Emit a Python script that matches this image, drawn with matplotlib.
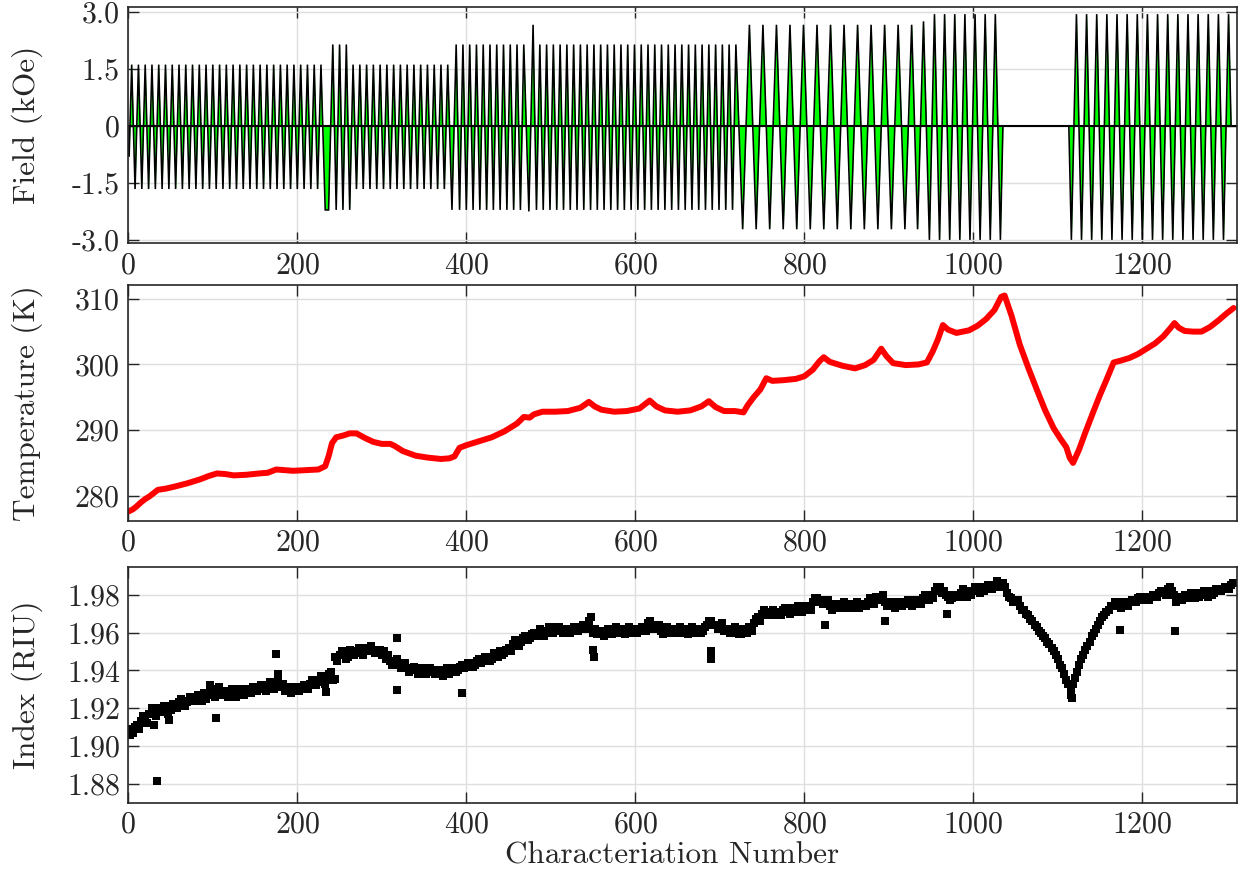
import numpy as np
import matplotlib
matplotlib.use("Agg")
import matplotlib.pyplot as plt

plt.rcParams.update({
    "font.family": "serif",
    "font.serif": ["cmr10"],
    "mathtext.fontset": "cm",
    "axes.formatter.use_mathtext": True,
    "axes.unicode_minus": False,
})

# ---------------- field protocol (kOe) ----------------
# Alternating sweep turning points: (first x, spacing, count, first value, second value)
field_blocks = [
    (4, 4, 57, 1.62, -1.66),
    (266, 4, 29, 1.62, -1.66),
    (388, 4, 21, 2.15, -2.21),
    (483, 4, 60, -2.21, 2.15),
    (727, 8, 26, -2.72, 2.67),
    (954, 6, 14, 2.95, -3.00),
    (1116, 6, 32, -3.00, 2.95),
]
# Single turning points between the regular sweeps
field_extra_x = [1, 1, 233, 237, 242, 246, 250, 254, 258, 262, 383, 474, 479,
                 934, 941, 948, 1035, 1113, 1305]
field_extra_y = [0, -0.8, -2.21, -2.21, 2.15, -2.21, 2.15, -2.21, 2.15, -2.21,
                 -2.21, -2.25, 2.67, -2.72, 2.76, -3.00, 0, 0, 0]

# ---------------- temperature (K) ----------------
temp_x = [0, 5, 10, 15, 20, 25, 30, 35, 45, 55, 70, 85, 95, 105, 115, 125, 140,
          155, 165, 175, 185, 195, 210, 225, 233, 237, 241, 246, 255, 262, 270,
          280, 290, 300, 310, 315, 325, 340, 355, 370, 380, 386, 392, 400, 415,
          430, 445, 460, 468, 475, 480, 490, 505, 520, 535, 545, 552, 560, 575,
          590, 605, 617, 625, 635, 650, 665, 678, 687, 695, 705, 718, 728, 733,
          740, 748, 755, 762, 775, 790, 800, 810, 818, 823, 830, 845, 860, 872,
          882, 891, 897, 905, 920, 935, 945, 952, 958, 964, 970, 980, 995, 1005,
          1015, 1025, 1033, 1037, 1045, 1055, 1065, 1075, 1085, 1095, 1103, 1110,
          1114, 1118, 1125, 1133, 1142, 1150, 1158, 1166, 1175, 1185, 1195, 1205,
          1215, 1225, 1233, 1238, 1243, 1250, 1260, 1270, 1280, 1290, 1300, 1308]
temp_k = [277.6, 277.9, 278.4, 279.0, 279.5, 279.9, 280.4, 280.9, 281.1, 281.4,
          281.9, 282.5, 283.0, 283.4, 283.3, 283.1, 283.2, 283.4, 283.5, 284.0,
          283.9, 283.8, 283.9, 284.0, 284.5, 286.0, 288.0, 288.9, 289.2, 289.5,
          289.5, 288.8, 288.2, 287.9, 287.9, 287.6, 286.8, 286.1, 285.8, 285.6,
          285.7, 286.0, 287.3, 287.7, 288.3, 288.9, 289.8, 291.0, 292.0, 291.9,
          292.4, 292.8, 292.8, 292.9, 293.4, 294.3, 293.6, 293.1, 292.8, 292.9,
          293.3, 294.5, 293.6, 293.0, 292.8, 293.0, 293.6, 294.4, 293.5, 292.9,
          292.9, 292.7, 293.8, 295.0, 296.2, 297.9, 297.5, 297.6, 297.8, 298.2,
          299.2, 300.5, 301.1, 300.4, 299.8, 299.4, 299.9, 300.7, 302.4, 301.3,
          300.2, 299.9, 300.0, 300.3, 302.0, 303.8, 306.0, 305.3, 304.8, 305.2,
          305.9, 306.9, 308.3, 310.3, 310.5, 307.5, 303.0, 299.5, 296.2, 293.0,
          290.3, 288.7, 287.4, 285.8, 285.0, 287.0, 289.8, 292.8, 295.4, 297.8,
          300.3, 300.6, 301.0, 301.6, 302.4, 303.2, 304.3, 305.5, 306.3, 305.6,
          305.1, 305.0, 305.0, 305.7, 306.7, 307.8, 308.6]

# ---------------- refractive index (RIU) ----------------
index_step = 5
# samples at 0, 5, 10, ...
index_vals = [
    1.909, 1.907, 1.911, 1.913, 1.915, 1.917, 1.919, 1.920, 1.918, 1.921,
    1.919, 1.922, 1.923, 1.924, 1.923, 1.926, 1.925, 1.926, 1.928, 1.927,
    1.930, 1.928, 1.927, 1.929, 1.926, 1.928, 1.927, 1.929, 1.930, 1.928,
    1.931, 1.930, 1.932, 1.931, 1.933, 1.934, 1.931, 1.929, 1.930, 1.929,
    1.931, 1.930, 1.932, 1.933, 1.934, 1.935, 1.934, 1.936, 1.939, 1.947,
    1.948, 1.949, 1.947, 1.950, 1.949, 1.951, 1.952, 1.950, 1.951, 1.949,
    1.948, 1.946, 1.945, 1.943, 1.944, 1.942, 1.941, 1.940, 1.941, 1.939,
    1.940, 1.939, 1.940, 1.938, 1.939, 1.940, 1.938, 1.941, 1.940, 1.943,
    1.942, 1.944, 1.943, 1.946, 1.945, 1.947, 1.946, 1.948, 1.950, 1.949,
    1.952, 1.954, 1.956, 1.955, 1.958, 1.957, 1.960, 1.959, 1.961, 1.960,
    1.962, 1.961, 1.963, 1.960, 1.962, 1.961, 1.963, 1.962, 1.964, 1.966,
    1.960, 1.959, 1.961, 1.960, 1.962, 1.961, 1.960, 1.962, 1.961, 1.960,
    1.962, 1.961, 1.963, 1.965, 1.964, 1.962, 1.961, 1.962, 1.960, 1.962,
    1.961, 1.960, 1.962, 1.961, 1.960, 1.962, 1.961, 1.964, 1.966, 1.964,
    1.963, 1.961, 1.962, 1.960, 1.961, 1.959, 1.962, 1.963, 1.965, 1.968,
    1.970, 1.971, 1.970, 1.969, 1.971, 1.972, 1.971, 1.973, 1.972, 1.973,
    1.972, 1.974, 1.976, 1.978, 1.977, 1.975, 1.974, 1.973, 1.975, 1.974,
    1.973, 1.975, 1.974, 1.973, 1.975, 1.976, 1.977, 1.979, 1.978, 1.976,
    1.974, 1.975, 1.976, 1.974, 1.975, 1.976, 1.975, 1.977, 1.978, 1.979,
    1.980, 1.982, 1.984, 1.982, 1.979, 1.978, 1.980, 1.981, 1.981, 1.982,
    1.982, 1.983, 1.984, 1.983, 1.985, 1.984, 1.986, 1.986, 1.981, 1.978,
    1.976, 1.974, 1.972, 1.969, 1.966, 1.963, 1.960, 1.957, 1.954, 1.950,
    1.946, 1.941, 1.935, 1.930, 1.936, 1.943, 1.948, 1.953, 1.958, 1.962,
    1.966, 1.969, 1.972, 1.974, 1.976, 1.973, 1.975, 1.976, 1.977, 1.978,
    1.977, 1.978, 1.979, 1.980, 1.981, 1.982, 1.983, 1.982, 1.976, 1.979,
    1.980, 1.979, 1.980, 1.981, 1.980, 1.981, 1.982, 1.981, 1.983, 1.983,
    1.984, 1.985,
]
# samples at 2.5, 7.5, 12.5, ...
index_vals_b = [
    1.906, 1.910, 1.909, 1.916, 1.912, 1.920, 1.916, 1.918, 1.921, 1.917,
    1.922, 1.920, 1.925, 1.921, 1.926, 1.924, 1.927, 1.924, 1.925, 1.930,
    1.926, 1.931, 1.929, 1.926, 1.930, 1.926, 1.930, 1.927, 1.928, 1.931,
    1.929, 1.932, 1.929, 1.934, 1.930, 1.936, 1.933, 1.931, 1.928, 1.931,
    1.929, 1.932, 1.930, 1.935, 1.932, 1.937, 1.933, 1.938, 1.935, 1.945,
    1.950, 1.946, 1.951, 1.948, 1.952, 1.948, 1.950, 1.953, 1.949, 1.951,
    1.950, 1.948, 1.943, 1.946, 1.941, 1.944, 1.939, 1.942, 1.938, 1.941,
    1.938, 1.941, 1.938, 1.940, 1.937, 1.941, 1.939, 1.939, 1.942, 1.941,
    1.944, 1.942, 1.945, 1.944, 1.947, 1.945, 1.949, 1.947, 1.948, 1.951,
    1.950, 1.956, 1.953, 1.957, 1.956, 1.959, 1.958, 1.962, 1.958, 1.963,
    1.960, 1.963, 1.961, 1.962, 1.960, 1.963, 1.961, 1.964, 1.962, 1.968,
    1.962, 1.961, 1.958, 1.962, 1.959, 1.963, 1.962, 1.959, 1.963, 1.962,
    1.960, 1.963, 1.961, 1.966, 1.962, 1.964, 1.959, 1.963, 1.962, 1.960,
    1.963, 1.962, 1.959, 1.963, 1.962, 1.960, 1.963, 1.966, 1.964, 1.962,
    1.965, 1.962, 1.960, 1.963, 1.959, 1.962, 1.960, 1.961, 1.967, 1.966,
    1.972, 1.969, 1.972, 1.971, 1.969, 1.973, 1.970, 1.971, 1.974, 1.971,
    1.974, 1.972, 1.978, 1.976, 1.975, 1.977, 1.972, 1.975, 1.973, 1.976,
    1.975, 1.973, 1.976, 1.975, 1.974, 1.978, 1.975, 1.977, 1.980, 1.974,
    1.976, 1.973, 1.974, 1.976, 1.977, 1.974, 1.977, 1.975, 1.980, 1.977,
    1.978, 1.984, 1.981, 1.980, 1.977, 1.980, 1.979, 1.983, 1.979, 1.980,
    1.984, 1.981, 1.982, 1.985, 1.983, 1.987, 1.984, 1.984, 1.979, 1.976,
    1.977, 1.972, 1.970, 1.967, 1.964, 1.961, 1.958, 1.955, 1.952, 1.948,
    1.943, 1.938, 1.933, 1.933, 1.939, 1.946, 1.951, 1.955, 1.960, 1.964,
    1.968, 1.971, 1.974, 1.976, 1.974, 1.976, 1.974, 1.977, 1.976, 1.979,
    1.979, 1.977, 1.980, 1.979, 1.982, 1.980, 1.984, 1.980, 1.979, 1.977,
    1.978, 1.981, 1.978, 1.979, 1.982, 1.979, 1.980, 1.983, 1.982, 1.984,
    1.983, 1.986,
]
index_out_x = [34, 31, 48, 104, 97, 175, 177, 234, 245, 318, 318, 395, 550, 551,
               689, 690, 824, 895, 969, 1115, 1117, 1173, 1239]
index_out_y = [1.8817, 1.911, 1.9137, 1.9147, 1.9325, 1.9488, 1.938, 1.9286,
               1.9353, 1.9569, 1.9298, 1.928, 1.9505, 1.9468, 1.9458, 1.950,
               1.964, 1.9663, 1.970, 1.927, 1.9255, 1.9615, 1.9606]

# ---------------- assemble field polyline ----------------
pts = []
for x0, dx, n, va, vb in field_blocks:
    for i in range(n):
        pts.append((x0 + i * dx, va if i % 2 == 0 else vb))
pts += list(zip(field_extra_x, field_extra_y))
pts.sort(key=lambda p: p[0])
fx = np.array([p[0] for p in pts], dtype=float)
fy = np.array([p[1] for p in pts], dtype=float)

index_x = np.arange(len(index_vals)) * index_step
index_x_b = np.arange(len(index_vals_b)) * index_step + index_step / 2

# ---------------- figure ----------------
W, H = 1243, 875
fig = plt.figure(figsize=(W / 100, H / 100), dpi=100)
left = 128.3 / W
width = (1237 - 128.3) / W


def box(top_px, bot_px):
    return [left, 1 - bot_px / H, width, (bot_px - top_px) / H]


ax1 = fig.add_axes(box(7.3, 243.3))
ax2 = fig.add_axes(box(285, 520.7))
ax3 = fig.add_axes(box(566.7, 802.7))

TXT = "#262626"
for ax in (ax1, ax2, ax3):
    ax.set_xlim(0, 1312)
    ax.set_xticks([0, 200, 400, 600, 800, 1000, 1200])
    ax.grid(True, color="#dedede", lw=1.0)
    ax.set_axisbelow(True)
    ax.tick_params(direction="in", length=8, width=1.0, top=True, right=True,
                   colors=TXT, labelsize=21.5, pad=6)
    for s in ax.spines.values():
        s.set_color(TXT)
        s.set_linewidth(1.2)
    ax.yaxis.set_label_coords(-0.077, 0.5)

# Field sweeps
ax1.fill_between(fx, fy, 0, color="#00ff00", lw=0)
ax1.plot(fx, fy, color="black", lw=1.15, solid_joinstyle="miter")
ax1.axhline(0, color="black", lw=1.5)
ax1.set_ylim(-3.09, 3.13)
ax1.set_yticks([-3, -1.5, 0, 1.5, 3])
ax1.set_yticklabels(["-3.0", "-1.5", "0", "1.5", "3.0"])
ax1.set_ylabel("Field (kOe)", fontsize=22.5, color=TXT)

# Temperature
ax2.plot(temp_x, temp_k, color="#ff0000", lw=4.3, solid_capstyle="round")
ax2.set_ylim(276.2, 312.1)
ax2.set_yticks([280, 290, 300, 310])
ax2.set_ylabel("Temperature (K)", fontsize=22.5, color=TXT)

# Index
for xs, ys in ((index_x, index_vals), (index_x_b, index_vals_b),
               (index_out_x, index_out_y)):
    ax3.plot(xs, ys, "s", color="black", ms=5.2, mew=0)
ax3.set_ylim(1.87, 1.9948)
ax3.set_yticks([1.88, 1.90, 1.92, 1.94, 1.96, 1.98])
ax3.set_yticklabels(["1.88", "1.90", "1.92", "1.94", "1.96", "1.98"])
ax3.set_ylabel("Index (RIU)", fontsize=22.5, color=TXT)
ax3.set_xlabel("Characteriation Number", fontsize=22.5, color=TXT, labelpad=2)
ax3.xaxis.label.set_x(0.4904)

fig.savefig("out.png", dpi=100)
